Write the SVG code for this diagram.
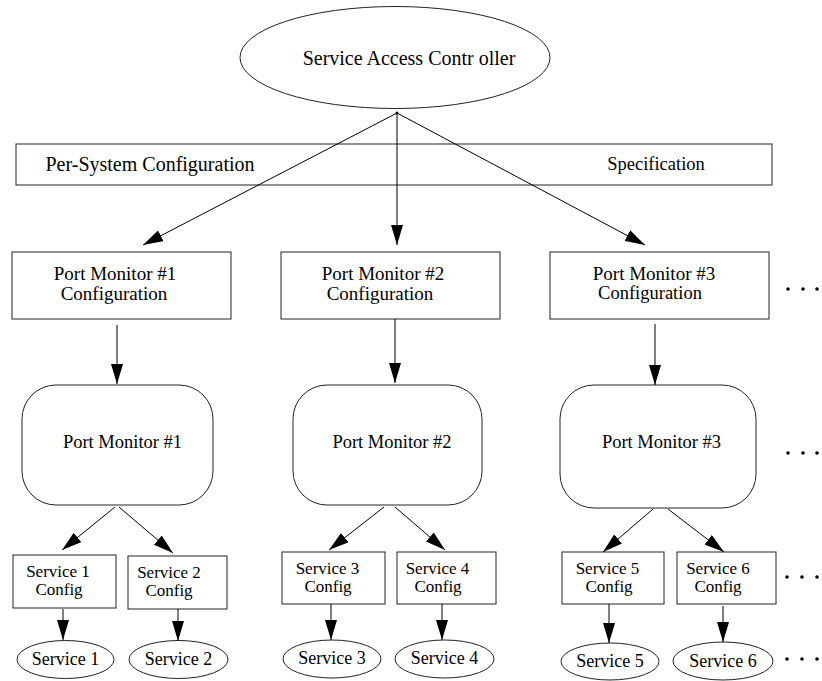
<svg xmlns="http://www.w3.org/2000/svg" width="822" height="681" viewBox="0 0 822 681">
<style>
text{font-family:"Liberation Serif","Times New Roman",serif;fill:#000;text-anchor:middle}
.b{fill:#fff;stroke:#222;stroke-width:1}
.c{stroke:#000;stroke-width:1;fill:none;marker-end:url(#ah)}
.t20{font-size:20px}.t19{font-size:19px}.t18{font-size:18.5px}.t17{font-size:17px}.t175{font-size:18px}
.dot{fill:#000}
</style>
<defs>
<marker id="ah" markerUnits="userSpaceOnUse" markerWidth="20" markerHeight="12" viewBox="0 0 20 12" refX="20" refY="6" orient="auto">
<path d="M0,0 L20,6 L0,12 z" fill="#000"/>
</marker>
</defs>
<rect width="822" height="681" fill="#fff"/>

<g id="sac">
<ellipse class="b" cx="395" cy="57.5" rx="155" ry="51"/>
<text class="t20" x="409" y="65">Service Access Contr oller</text>
</g>

<g id="persystem">
<rect class="b" x="16" y="144" width="756" height="41"/>
<text class="t20" x="150" y="171">Per-System Configuration</text>
<text class="t18" x="656" y="170">Specification</text>
</g>

<g id="pmc1">
<rect class="b" x="12" y="252" width="219" height="67"/>
<text class="t19" x="115" y="280">Port Monitor #1</text>
<text class="t19" x="114" y="300">Configuration</text>
</g>
<g id="pmc2">
<rect class="b" x="281" y="252" width="219" height="67"/>
<text class="t19" x="383" y="280">Port Monitor #2</text>
<text class="t19" x="380" y="300">Configuration</text>
</g>
<g id="pmc3">
<rect class="b" x="550" y="252" width="219" height="67"/>
<text class="t19" x="654" y="280">Port Monitor #3</text>
<text class="t18" x="650" y="299">Configuration</text>
</g>

<g id="pm1">
<rect class="b" x="22" y="385" width="191" height="120" rx="34" ry="34"/>
<text class="t18" x="122.5" y="448">Port Monitor #1</text>
</g>
<g id="pm2">
<rect class="b" x="293" y="385" width="189" height="120" rx="34" ry="34"/>
<text class="t18" x="392" y="448">Port Monitor #2</text>
</g>
<g id="pm3">
<rect class="b" x="560" y="385" width="196" height="123" rx="34" ry="34"/>
<text class="t18" x="661.5" y="448">Port Monitor #3</text>
</g>

<g id="sc1"><rect class="b" x="13" y="555" width="103" height="53"/>
<text class="t17" x="58" y="577">Service 1</text><text class="t17" x="59" y="595">Config</text></g>
<g id="sc2"><rect class="b" x="128" y="556" width="99" height="53"/>
<text class="t17" x="169" y="578">Service 2</text><text class="t17" x="169" y="596">Config</text></g>
<g id="sc3"><rect class="b" x="282" y="552" width="103" height="52"/>
<text class="t17" x="327.5" y="574">Service 3</text><text class="t17" x="328" y="592">Config</text></g>
<g id="sc4"><rect class="b" x="397" y="552" width="99" height="52"/>
<text class="t17" x="437.5" y="574">Service 4</text><text class="t17" x="438" y="592">Config</text></g>
<g id="sc5"><rect class="b" x="562" y="552" width="102" height="52"/>
<text class="t17" x="607.5" y="574">Service 5</text><text class="t17" x="609" y="592">Config</text></g>
<g id="sc6"><rect class="b" x="677" y="552" width="99" height="52"/>
<text class="t17" x="718" y="574">Service 6</text><text class="t17" x="718" y="592">Config</text></g>

<g id="s1"><ellipse class="b" cx="65.5" cy="659.5" rx="48.5" ry="19"/><text class="t175" x="65.5" y="665">Service 1</text></g>
<g id="s2"><ellipse class="b" cx="178.5" cy="659.5" rx="49.5" ry="19"/><text class="t175" x="178.5" y="665">Service 2</text></g>
<g id="s3"><ellipse class="b" cx="332" cy="659" rx="49" ry="19"/><text class="t175" x="332" y="664">Service 3</text></g>
<g id="s4"><ellipse class="b" cx="444.5" cy="659" rx="49.5" ry="19"/><text class="t175" x="444.5" y="664">Service 4</text></g>
<g id="s5"><ellipse class="b" cx="610" cy="661.5" rx="49" ry="18.5"/><text class="t175" x="610" y="667">Service 5</text></g>
<g id="s6"><ellipse class="b" cx="723" cy="661" rx="50" ry="19"/><text class="t175" x="723" y="667">Service 6</text></g>

<g id="ellipses-more">
<circle class="dot" cx="788" cy="289" r="1.8"/><circle class="dot" cx="803" cy="289" r="1.8"/><circle class="dot" cx="817" cy="289" r="1.8"/>
<circle class="dot" cx="788" cy="453" r="1.8"/><circle class="dot" cx="803" cy="453" r="1.8"/><circle class="dot" cx="817" cy="453" r="1.8"/>
<circle class="dot" cx="787" cy="577" r="1.8"/><circle class="dot" cx="802" cy="577" r="1.8"/><circle class="dot" cx="817" cy="577" r="1.8"/>
<circle class="dot" cx="787" cy="659" r="1.8"/><circle class="dot" cx="802" cy="659" r="1.8"/><circle class="dot" cx="817" cy="659" r="1.8"/>
</g>

<g id="connectors">
<circle cx="397" cy="113" r="1.5" fill="#000"/>
<line class="c" x1="397" y1="113" x2="143" y2="245"/>
<line class="c" x1="397" y1="113" x2="397" y2="245"/>
<line class="c" x1="397" y1="113" x2="645" y2="245"/>
<line class="c" x1="117" y1="325" x2="117" y2="384"/>
<line class="c" x1="395" y1="319" x2="395" y2="383"/>
<line class="c" x1="655" y1="324" x2="655" y2="385"/>
<line class="c" x1="115" y1="507" x2="62" y2="550"/>
<line class="c" x1="119" y1="507" x2="173" y2="553"/>
<line class="c" x1="384" y1="507" x2="329" y2="550"/>
<line class="c" x1="395" y1="507" x2="445" y2="550"/>
<line class="c" x1="653" y1="509" x2="603" y2="552"/>
<line class="c" x1="668" y1="509" x2="724" y2="552"/>
<line class="c" x1="63" y1="609" x2="63" y2="640"/>
<line class="c" x1="178" y1="609" x2="178" y2="641"/>
<line class="c" x1="331" y1="604" x2="331" y2="640"/>
<line class="c" x1="442" y1="604" x2="442" y2="640"/>
<line class="c" x1="609" y1="604" x2="609" y2="643"/>
<line class="c" x1="723" y1="606" x2="723" y2="642"/>
</g>
</svg>
